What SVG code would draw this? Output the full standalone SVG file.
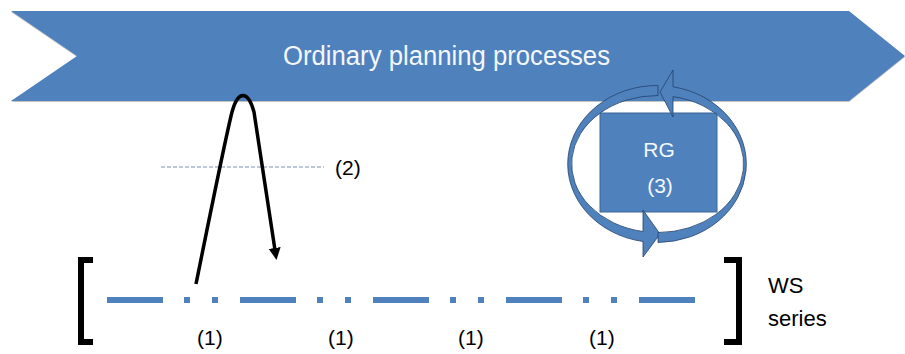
<svg xmlns="http://www.w3.org/2000/svg" width="905" height="354" viewBox="0 0 905 354">
  <defs>
    <style>
      .lbl { font-family: "Liberation Sans", Arial, sans-serif; fill: #000; }
      .wt { font-family: "Liberation Sans", Arial, sans-serif; fill: #f4f7fb; }
      .ring { fill: #4F81BD; stroke: #24436b; stroke-width: 0.8; stroke-linejoin: miter; }
    </style>
    <marker id="ah" markerWidth="14" markerHeight="14" refX="2" refY="6" orient="auto" markerUnits="userSpaceOnUse" viewBox="0 0 14 12">
      <path d="M0,0 L12,6 L0,12 Z" fill="#000"/>
    </marker>
  </defs>
  <rect width="905" height="354" fill="#fff"/>

  <g id="banner">
    <polygon points="11,12 849,12 905,57 849,102 11,102 77,57" fill="#9a9a9a" opacity="0.6"/>
    <polygon points="11,11 849,11 905,56 849,101 11,101 77,56" fill="#4F81BD"/>
    <text class="wt" x="283" y="65" font-size="27" textLength="327" lengthAdjust="spacingAndGlyphs">Ordinary planning processes</text>
  </g>

  <g id="rg">
    <rect x="600" y="113" width="117" height="99" fill="#4F81BD" stroke="#3d6796" stroke-width="1"/>
    <text class="wt" x="659" y="157" font-size="21" text-anchor="middle">RG</text>
    <text class="wt" x="660" y="193" font-size="21" text-anchor="middle">(3)</text>
  </g>

  <g id="cycle">
    <path class="ring" d="M658,85.5 A89.5,78.5 0 0 0 643,241.5 L643,257 L660,234 L643,210 L643,231.5 A86,68.5 0 0 1 658,95.5 Z"/>
    <path class="ring" d="M658,242.5 A89.5,78.5 0 0 0 673,86.8 L673,70 L660,92 L673,117 L673,96.6 A86,68.5 0 0 1 658,232.5 Z"/>
  </g>

  <g id="threshold">
    <line x1="161" y1="167" x2="324" y2="167" stroke="#7a8fb0" stroke-width="1" stroke-dasharray="4 2"/>
    <text class="lbl" x="335" y="175" font-size="21">(2)</text>
  </g>

  <g id="ws-series">
    <path d="M93,260 L81,260 L81,342 L93,342" fill="none" stroke="#000" stroke-width="6"/>
    <path d="M724,260 L739,260 L739,342 L724,342" fill="none" stroke="#000" stroke-width="6"/>
    <line x1="107" y1="300" x2="695" y2="300" stroke="#4F81BD" stroke-width="6" stroke-dasharray="56 21 6 22 6 22"/>
    <text class="lbl" x="197" y="345" font-size="21">(1)</text>
    <text class="lbl" x="328" y="345" font-size="21">(1)</text>
    <text class="lbl" x="458" y="345" font-size="21">(1)</text>
    <text class="lbl" x="589" y="345" font-size="21">(1)</text>
    <text class="lbl" x="768" y="293" font-size="22">WS</text>
    <text class="lbl" x="768" y="326" font-size="22">series</text>
  </g>

  <g id="connectors">
    <path d="M196,284 C210,215 225,140 232,112 C238,90 248,90 254,112 L275,250" fill="none" stroke="#000" stroke-width="3.5" marker-end="url(#ah)"/>
  </g>
</svg>
